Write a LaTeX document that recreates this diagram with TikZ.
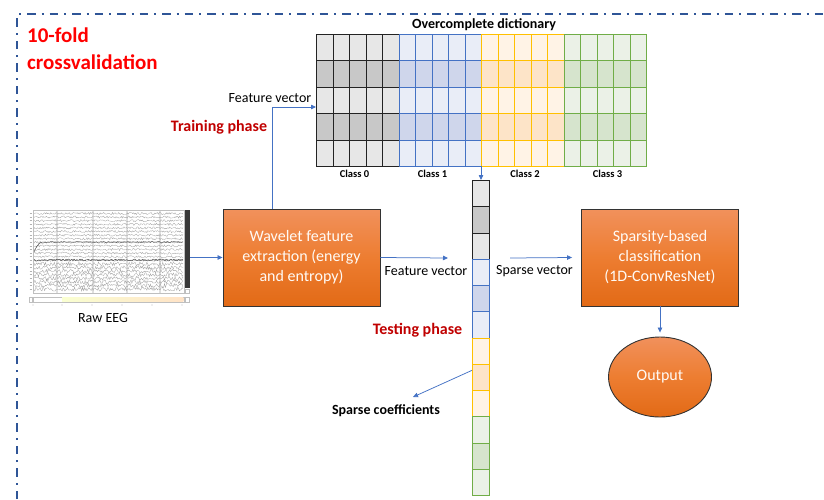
\documentclass[tikz,border=0pt]{standalone}
\usepackage{fontspec}
\setmainfont{Carlito}
\usetikzlibrary{arrows.meta,shapes.geometric,calc}

\definecolor{frameblue}{RGB}{47,85,151}
\definecolor{arrowblue}{RGB}{68,114,196}
\definecolor{titlered}{RGB}{255,0,0}
\definecolor{phasered}{RGB}{192,0,0}
\definecolor{orTop}{RGB}{241,145,92}
\definecolor{orMid}{RGB}{237,125,49}
\definecolor{orBot}{RGB}{226,106,22}
% class colours: line / light fill / dark fill
\definecolor{cAline}{RGB}{35,35,35}
\definecolor{cAlight}{RGB}{231,231,231}
\definecolor{cAdark}{RGB}{200,200,200}
\definecolor{cBline}{RGB}{68,114,196}
\definecolor{cBlight}{RGB}{233,237,247}
\definecolor{cBdark}{RGB}{207,214,235}
\definecolor{cCline}{RGB}{255,192,0}
\definecolor{cClight}{RGB}{255,243,230}
\definecolor{cCdark}{RGB}{253,228,200}
\definecolor{cDline}{RGB}{112,173,71}
\definecolor{cDlight}{RGB}{235,241,231}
\definecolor{cDdark}{RGB}{214,228,205}

\tikzset{
  frameline/.style={draw=frameblue, line width=1.8pt, dash pattern=on 8.5pt off 6pt on 2pt off 6pt},
  arr/.style={draw=arrowblue, line width=0.75pt, -{Triangle[length=5pt,width=4.5pt]}},
  cell/.style={rectangle, draw, inner sep=0pt, line width=0.9pt, anchor=north west},
  procbox/.style={rectangle, draw=black!80, line width=0.9pt, minimum width=157pt, minimum height=97pt,
    top color=orTop, bottom color=orBot, middle color=orMid, text=white!96!orange,
    font=\fontsize{16}{20}\selectfont, align=center},
  lbl/.style={font=\fontsize{14}{17}\selectfont, inner sep=0pt},
  blbl/.style={font=\bfseries\fontsize{14}{17}\selectfont, inner sep=0pt},
  classlbl/.style={font=\bfseries\fontsize{10.5}{12}\selectfont, inner sep=0pt},
  phase/.style={font=\bfseries\fontsize{16}{19}\selectfont, text=phasered, inner sep=0pt},
  eegtrace/.style={draw=gray!75, line width=0.3pt},
}

\begin{document}
\begin{tikzpicture}[x=1pt, y=-1pt]
\useasboundingbox (0,0) rectangle (824,499);

% dash-dot frame of the cross-validation loop
\draw[frameline] (17,499) -- (17,14) -- (824,14);

\node[anchor=west, align=left, text=titlered, inner sep=0pt,
      font=\bfseries\fontsize{21}{27}\selectfont] (title) at (27,48.5) {10-fold\\crossvalidation};

% ---------------- overcomplete dictionary ----------------
\foreach \k/\cl in {0/A,1/B,2/C,3/D}{
  \foreach \j in {0,...,4}{
    \foreach \r in {0,...,4}{
      \ifodd\r\def\tone{dark}\else\def\tone{light}\fi
      \node[cell, draw=c\cl line, fill=c\cl\tone, minimum width=16.5pt, minimum height=26.4pt]
        (d-\k-\j-\r) at ({316+(5*\k+\j)*16.5},{34+\r*26.4}) {};
    }
  }
}
\node[inner sep=0pt, minimum width=330pt, minimum height=132pt] (dict) at (481,100) {};
\node[blbl] (dictlbl) at (484,25) {Overcomplete dictionary};
\node[classlbl] (cl0) at (354.5,174) {Class 0};
\node[classlbl] (cl1) at (432.5,174) {Class 1};
\node[classlbl] (cl2) at (525,174) {Class 2};
\node[classlbl] (cl3) at (607.5,174) {Class 3};

% ---------------- sparse vector column ----------------
\foreach \i in {0,...,11}{
  \pgfmathtruncatemacro{\k}{int(\i/3)}
  \pgfmathtruncatemacro{\m}{mod(\i,3)}
  \edef\cl{\ifcase\k A\or B\or C\or D\fi}
  \ifodd\m\def\tone{dark}\else\def\tone{light}\fi
  \node[cell, draw=c\cl line, fill=c\cl\tone, minimum width=17pt, minimum height=26.25pt]
    (v\i) at (472,{180+\i*26.25}) {};
}

% ---------------- raw EEG snapshot ----------------
\node[inner sep=0pt, minimum width=161pt, minimum height=94pt] (eeg) at (109.5,255) {};
\fill[white] (29,208) rectangle (190,303);
\foreach \xv in {57,93,127,160} \draw[gray!25, line width=1.2pt] (\xv,210) -- (\xv,293);
\pgfmathsetseed{11}
\foreach \i in {0,...,21}{
  \pgfmathsetmacro{\yc}{213.5+3.6*\i}
  \pgfmathsetmacro{\amp}{\i>13 ? 2.0 : 1.1}
  \draw[eegtrace] plot[domain=34:183, samples=170] (\x,{\yc+\amp*rand});
  \draw[gray!60, line width=0.5pt] (29.5,\yc) -- (31.5,\yc);
}
\draw[black!70, line width=0.5pt] (34,252) .. controls (38,243) and (40,242) .. (44,242);
\draw[black!70, line width=0.5pt] plot[domain=44:183, samples=120] (\x,{242+0.5*rand});
\draw[black!70, line width=0.5pt] plot[domain=34:183, samples=150] (\x,{260+0.9*rand});
\draw[gray!50, line width=0.4pt] (33,210) rectangle (184,293);
\fill[black!78] (185,210) rectangle (189.5,288);
\draw[gray!50, line width=0.4pt] (185,289) rectangle (189.5,293);
\draw[gray!50, line width=0.4pt] (33,297) rectangle (184,302);
\shade[left color=green!12!yellow!18, right color=orange!22] (62,297.6) rectangle (183.4,301.4);
\draw[gray!50, line width=0.4pt] (29,297) rectangle (32,302);
\draw[gray!50, line width=0.4pt] (185,297) rectangle (189.5,302);
\foreach \xv in {33,62,92,122,152,182} \fill[gray!55] (\xv,305) circle (0.6);
\node[lbl] (eeglbl) at (103,318) {Raw EEG};

% ---------------- processing blocks ----------------
\node[procbox] (wave) at (301.5,257.5) {Wavelet feature\\extraction (energy\\and entropy)};
\node[procbox] (spars) at (660,257.5) {Sparsity-based\\classification\\(1D-ConvResNet)};
\node[ellipse, draw=black!80, line width=0.9pt, minimum width=103pt, minimum height=80pt,
      top color=orTop, bottom color=orBot, middle color=orMid, text=white!96!orange,
      font=\fontsize{16}{20}\selectfont] (out) at (660,377) {Output};

% ---------------- connectors ----------------
\coordinate (fvin) at (316,107);
\coordinate (fvtip) at (448,258);
\coordinate (svtail) at (510,258);
\coordinate (sctip) at (413,397);

\draw[arr] (eeg.east |- wave.west) -- (wave.west);
\draw[arr] ([xshift=-29.5pt]wave.north) |- (fvin);
\draw[arr] (wave.east) -- (fvtip);
\draw[arr] (dict.south) -- (dict.south |- v0.north);
\draw[arr] (svtail) -- ([xshift=-9pt]spars.west);
\draw[arr] (spars.south) -- ([yshift=4pt]out.north);
\draw[arr] ([yshift=7pt]v7.west) -- (sctip);

% ---------------- labels ----------------
\node[lbl] (fvtrain) at (270,98) {Feature vector};
\node[phase] (train) at (219,127) {Training phase};
\node[lbl] (fvtest) at (426,271) {Feature vector};
\node[lbl] (svlbl) at (534.5,271) {Sparse vector};
\node[phase] (test) at (417.5,330) {Testing phase};
\node[blbl] (sclbl) at (386,411) {Sparse coefficients};
\end{tikzpicture}
\end{document}
